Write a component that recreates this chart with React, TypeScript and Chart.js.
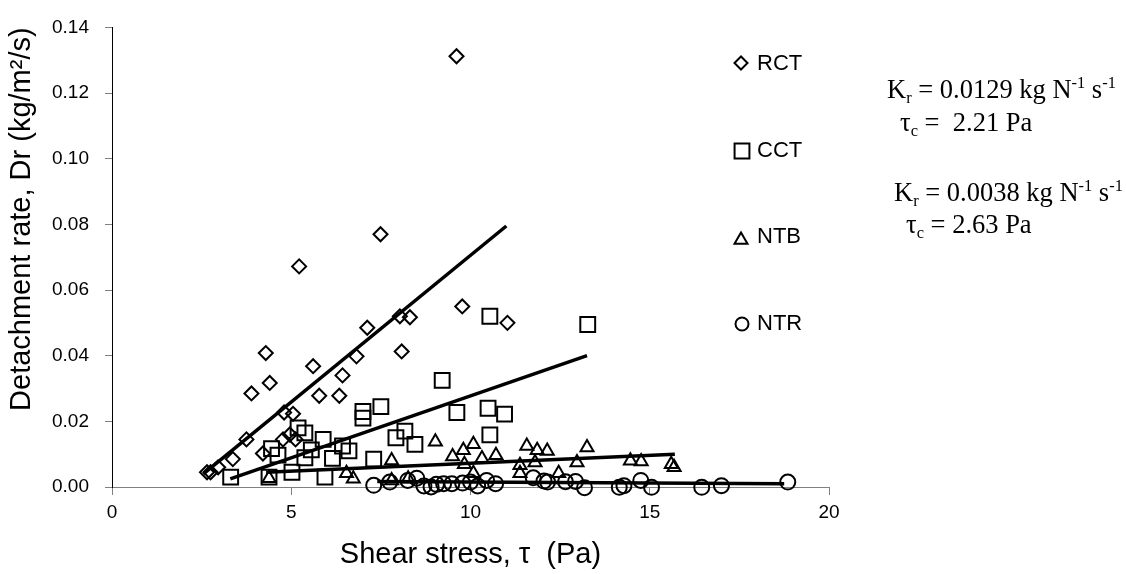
import React, { useEffect, useRef } from 'react';
import { Chart, registerables } from 'chart.js';
import { drawPoint } from 'chart.js/helpers';

Chart.register(...registerables);

// ---------- data ----------
const seriesNames = ['RCT', 'CCT', 'NTB', 'NTR'];

const rctShear = [2.65, 2.75, 2.96, 3.37, 3.75, 3.89, 4.21, 4.29, 4.4, 4.77, 4.8, 4.96, 5.05, 5.12, 5.22, 5.61, 5.78, 6.34, 6.43, 6.82, 7.12, 7.49, 8.03, 8.08, 8.31, 9.61, 9.77, 11.03];
const rctRate = [0.0045, 0.0045, 0.006, 0.0085, 0.0145, 0.0285, 0.0102, 0.0408, 0.0317, 0.0145, 0.0227, 0.016, 0.0223, 0.0145, 0.0672, 0.0368, 0.0278, 0.0278, 0.034, 0.0398, 0.0485, 0.077, 0.052, 0.0413, 0.0517, 0.1312, 0.055, 0.05];

const cctShear = [3.31, 4.38, 4.45, 4.63, 5.02, 5.19, 5.38, 5.38, 5.56, 5.89, 5.94, 6.15, 6.43, 6.61, 7.0, 7.0, 7.3, 7.5, 7.92, 8.17, 8.45, 9.21, 9.62, 10.49, 10.54, 10.54, 10.95, 13.27];
const cctRate = [0.003, 0.003, 0.0117, 0.0097, 0.0045, 0.018, 0.0165, 0.0089, 0.0113, 0.0145, 0.003, 0.0087, 0.0125, 0.011, 0.023, 0.021, 0.0085, 0.0245, 0.015, 0.017, 0.013, 0.0325, 0.0227, 0.024, 0.0159, 0.052, 0.0222, 0.0495];

const ntbShear = [4.38, 6.54, 6.73, 7.8, 7.8, 8.26, 9.02, 9.5, 9.8, 9.83, 10.08, 10.08, 10.32, 10.71, 11.38, 11.38, 11.57, 11.8, 11.86, 12.14, 12.46, 12.97, 13.25, 14.46, 14.76, 15.6, 15.68];
const ntbRate = [0.0027, 0.0042, 0.0025, 0.0081, 0.002, 0.0025, 0.0138, 0.0093, 0.0112, 0.0069, 0.013, 0.0042, 0.0087, 0.0097, 0.0066, 0.0042, 0.0125, 0.0075, 0.0112, 0.011, 0.0042, 0.0075, 0.012, 0.008, 0.0078, 0.0069, 0.006];

const ntrShear = [7.3, 7.75, 8.25, 8.5, 8.7, 8.9, 9.05, 9.25, 9.48, 9.78, 10.0, 10.2, 10.45, 10.7, 11.75, 12.05, 12.15, 12.65, 12.93, 13.18, 14.15, 14.28, 14.75, 15.05, 16.45, 17.0, 18.85];
const ntrRate = [0.0005, 0.0015, 0.002, 0.0027, 0.0003, 0.0, 0.0008, 0.001, 0.001, 0.0012, 0.0015, 0.0003, 0.002, 0.001, 0.0028, 0.0018, 0.0015, 0.0016, 0.0017, -0.0002, -0.0001, 0.0004, 0.002, -0.0001, -0.0001, 0.0004, 0.0015];

// fitted lines: [start, end]
const rctFitShear = [2.55, 11.0];
const rctFitRate = [0.004, 0.0795];
const cctFitShear = [3.3, 13.25];
const cctFitRate = [0.0025, 0.04];
const ntbFitShear = [4.3, 15.7];
const ntbFitRate = [0.0045, 0.01];
const ntrFitShear = [7.4, 18.75];
const ntrFitRate = [0.0017, 0.001];

const xTicks = [0, 5, 10, 15, 20];
const yTicks = [0, 0.02, 0.04, 0.06, 0.08, 0.1, 0.12, 0.14];

const xTitle = 'Shear stress, \u03c4  (Pa)';
const yTitle = 'Detachment rate, Dr (kg/m\u00b2/s)';

// annotation lines: [text, kind] kind 0 normal, 1 subscript, 2 superscript
const noteLine1: [string, number][] = [['K', 0], ['r', 1], [' = 0.0129 kg N', 0], ['-1', 2], [' s', 0], ['-1', 2]];
const noteLine2: [string, number][] = [['\u03c4', 0], ['c', 1], [' =  2.21 Pa', 0]];
const noteLine3: [string, number][] = [['K', 0], ['r', 1], [' = 0.0038 kg N', 0], ['-1', 2], [' s', 0], ['-1', 2]];
const noteLine4: [string, number][] = [['\u03c4', 0], ['c', 1], [' = 2.63 Pa', 0]];

const toPoints = (xs: number[], ys: number[]) => xs.map((x, i) => ({ x, y: ys[i] }));

const SANS = '"Liberation Sans", Arial, sans-serif';
const SERIF = '"Liberation Serif", "Times New Roman", serif';

function drawRich(ctx: CanvasRenderingContext2D, x: number, y: number, parts: [string, number][], size: number) {
  let cx = x;
  for (const [t, k] of parts) {
    const s = k === 0 ? size : size * 0.62;
    ctx.font = `${s}px ${SERIF}`;
    const dy = k === 1 ? size * 0.2 : k === 2 ? -size * 0.36 : 0;
    ctx.fillText(t, cx, y + dy);
    cx += ctx.measureText(t).width;
  }
}

const markerStyles = [
  { style: 'rectRot', radius: 7 },
  { style: 'rect', radius: 10.5 },
  { style: 'triangle', radius: 7.5 },
  { style: 'circle', radius: 7.5 },
];

const overlayPlugin = {
  id: 'overlay',
  afterDraw(chart: any) {
    const ctx: CanvasRenderingContext2D = chart.ctx;
    ctx.save();
    // legend
    const legendMarkers = [
      { style: 'rectRot', radius: 6.5, x: 741, y: 63 },
      { style: 'rect', radius: 10.5, x: 742, y: 151 },
      { style: 'triangle', radius: 7.5, x: 741, y: 240 },
      { style: 'circle', radius: 6.5, x: 742, y: 324 },
    ];
    const legendBaselines = [70, 157, 243, 330];
    ctx.strokeStyle = '#000';
    ctx.fillStyle = 'rgba(0,0,0,0)';
    ctx.lineWidth = 2;
    legendMarkers.forEach((m) => {
      drawPoint(ctx, { pointStyle: m.style as any, radius: m.radius, borderWidth: 2, rotation: 0 }, m.x, m.y);
    });
    ctx.fillStyle = '#000';
    ctx.textBaseline = 'alphabetic';
    ctx.textAlign = 'left';
    ctx.font = `22px ${SANS}`;
    seriesNames.forEach((n, i) => ctx.fillText(n, 757, legendBaselines[i]));
    // annotations
    drawRich(ctx, 887, 98, noteLine1, 26.5);
    drawRich(ctx, 900, 131, noteLine2, 26.5);
    drawRich(ctx, 894, 201, noteLine3, 26.5);
    drawRich(ctx, 906, 233, noteLine4, 26.5);
    ctx.restore();
  },
};

export default function App() {
  const ref = useRef<HTMLCanvasElement | null>(null);
  useEffect(() => {
    if (!ref.current) return;
    const scatter = (label: string, xs: number[], ys: number[], i: number) => ({
      label,
      data: toPoints(xs, ys),
      showLine: false,
      pointStyle: markerStyles[i].style,
      pointRadius: markerStyles[i].radius,
      pointBorderWidth: 2,
      pointBorderColor: '#000',
      pointBackgroundColor: 'rgba(0,0,0,0)',
      borderColor: '#000',
      backgroundColor: 'rgba(0,0,0,0)',
      clip: false as any,
      order: 2,
    });
    const fit = (label: string, xs: number[], ys: number[]) => ({
      label,
      data: toPoints(xs, ys),
      showLine: true,
      pointRadius: 0,
      borderColor: '#000',
      borderWidth: 3.5,
      backgroundColor: '#000',
      clip: false as any,
      order: 1,
    });
    const chart = new Chart(ref.current, {
      type: 'scatter',
      data: {
        datasets: [
          scatter(seriesNames[0], rctShear, rctRate, 0),
          scatter(seriesNames[1], cctShear, cctRate, 1),
          scatter(seriesNames[2], ntbShear, ntbRate, 2),
          scatter(seriesNames[3], ntrShear, ntrRate, 3),
          fit('RCT fit', rctFitShear, rctFitRate),
          fit('CCT fit', cctFitShear, cctFitRate),
          fit('NTB fit', ntbFitShear, ntbFitRate),
          fit('NTR fit', ntrFitShear, ntrFitRate),
        ] as any,
      },
      options: {
        responsive: false,
        animation: false,
        devicePixelRatio: 1,
        layout: { padding: { top: 20, right: 297, left: 0, bottom: 0 } },
        plugins: { legend: { display: false }, tooltip: { enabled: false } },
        scales: {
          x: {
            type: 'linear',
            min: 0,
            max: 20,
            afterFit: (s: any) => { s.height = 87; },
            afterBuildTicks: (s: any) => { s.ticks = xTicks.map((v) => ({ value: v })); },
            ticks: { color: '#000', font: { family: SANS, size: 19 }, padding: 6, maxRotation: 0 },
            grid: { drawOnChartArea: false, drawTicks: true, tickLength: 8, color: '#808080' },
            border: { color: '#808080', width: 1 },
            title: { display: true, text: xTitle, color: '#000', font: { family: SANS, size: 29 }, padding: { top: 0, bottom: 2 } },
          },
          y: {
            type: 'linear',
            min: 0,
            max: 0.14,
            afterFit: (s: any) => { s.width = 112; },
            afterBuildTicks: (s: any) => { s.ticks = yTicks.map((v) => ({ value: v })); },
            ticks: { color: '#000', font: { family: SANS, size: 19 }, padding: 16, callback: (v: any) => Number(v).toFixed(2) },
            grid: { drawOnChartArea: false, drawTicks: true, tickLength: 7, color: '#808080' },
            border: { color: '#000', width: 1 },
            title: { display: true, text: yTitle, color: '#000', align: 'end', font: { family: SANS, size: 29 }, padding: { top: 5, bottom: 0 } },
          },
        },
      } as any,
      plugins: [overlayPlugin],
    });
    return () => chart.destroy();
  }, []);
  return (
    <div style={{ position: 'absolute', left: 0, top: 0, width: 1126, height: 574, background: '#fff' }}>
      <canvas ref={ref} width={1126} height={574} />
    </div>
  );
}
